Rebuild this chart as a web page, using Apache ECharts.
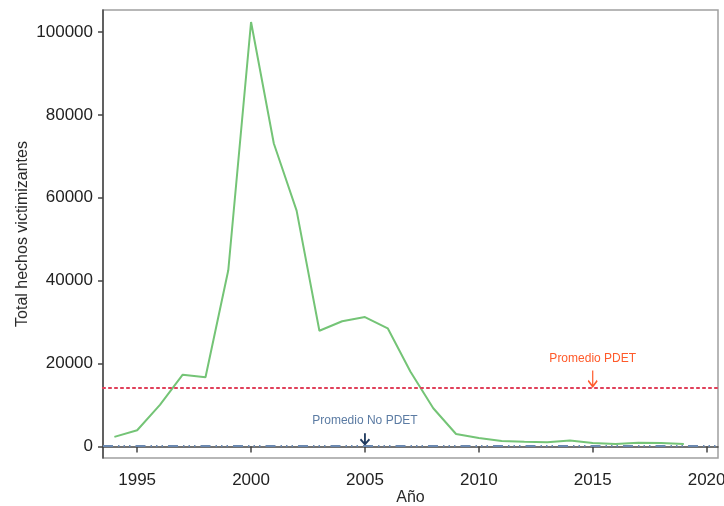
<!DOCTYPE html>
<html>
<head>
<meta charset="utf-8">
<script src="https://cdn.jsdelivr.net/npm/echarts@6/dist/echarts.min.js"></script>
<style>html,body{margin:0;padding:0;background:#fff}#c{width:724px;height:506px}</style>
</head>
<body>
<div id="c"></div>
<script>
var years = [1994,1995,1996,1997,1998,1999,2000,2001,2002,2003,2004,2005,2006,2007,2008,2009,2010,2011,2012,2013,2014,2015,2016,2017,2018,2019];
var totals = [2300,3900,10000,17300,16700,42500,102400,73100,56900,27900,30200,31200,28500,18000,9200,3000,2000,1300,1100,1000,1400,800,600,900,800,600];
var pdetMean = 14200;
var noPdetMean = 150;
var xTicks = [1995,2000,2005,2010,2015,2020];
var yTicks = [0,20000,40000,60000,80000,100000];

var chart = echarts.init(document.getElementById('c'));
var font = 'Liberation Sans, Arial, sans-serif';
var plain = function (v) { return String(v); };
chart.setOption({
  animation: false,
  grid: {left: 103, right: 6, top: 10, bottom: 48, show: true, borderColor: '#a0a0a0', borderWidth: 1.5,
         containLabel: false, outerBoundsMode: 'none'},
  xAxis: {
    type: 'value', min: 1993.5, max: 2020.5,
    name: 'Año', nameLocation: 'middle', nameGap: 32, nameMoveOverlap: false,
    nameTextStyle: {fontFamily: font, fontSize: 16, color: '#2a2a2a'},
    axisLine: {show: true, lineStyle: {color: '#444', width: 1.5}},
    axisTick: {show: true, length: 6, lineStyle: {color: '#444', width: 1.5}, customValues: xTicks},
    axisLabel: {fontFamily: font, fontSize: 17, color: '#222', margin: 14, formatter: plain, customValues: xTicks},
    splitLine: {show: false}
  },
  yAxis: {
    type: 'value', min: -2800, max: 105300,
    name: 'Total hechos victimizantes', nameLocation: 'middle', nameGap: 72, nameRotate: 90, nameMoveOverlap: false,
    nameTextStyle: {fontFamily: font, fontSize: 16, color: '#2a2a2a'},
    axisLine: {show: true, lineStyle: {color: '#444', width: 1.5}},
    axisTick: {show: true, length: 5, lineStyle: {color: '#444', width: 1.5}, customValues: yTicks},
    axisLabel: {fontFamily: font, fontSize: 17, color: '#222', margin: 10, formatter: plain, customValues: yTicks},
    splitLine: {show: false}
  },
  series: [
    {
      type: 'line', data: years.map(function (y, i) { return [y, totals[i]]; }),
      symbol: 'none', lineStyle: {color: '#74c476', width: 2}, z: 3,
      markLine: {
        silent: true, symbol: 'none', label: {show: false},
        data: [
          {yAxis: pdetMean, lineStyle: {color: '#e0405a', width: 2.2, type: [2, 4], cap: 'round'}},
          {yAxis: noPdetMean, lineStyle: {color: '#6a88b0', width: 2.2, type: [10, 5, 1.5, 4, 1.5, 4, 1.5, 5]}}
        ]
      }
    },
    {
      type: 'scatter', silent: true, z: 4,
      data: [[2015, pdetMean]],
      symbol: 'path://M5,0 L5,16 M0,10 L5,16 L10,10',
      symbolSize: [9, 16], symbolOffset: [0, -9], symbolKeepAspect: false,
      itemStyle: {color: 'none', borderColor: '#ff5a2a', borderWidth: 1.6, opacity: 1},
      label: {
        show: true, position: 'top', distance: 3,
        formatter: 'Promedio PDET',
        fontFamily: font, fontSize: 12, color: '#ff5a2a'
      }
    },
    {
      type: 'scatter', silent: true, z: 4,
      data: [[2005, noPdetMean]],
      symbol: 'path://M5,0 L5,11 M0,6 L5,11 L10,6',
      symbolSize: [9, 11], symbolOffset: [0, -7], symbolKeepAspect: false,
      itemStyle: {color: 'none', borderColor: '#1f3a5f', borderWidth: 2, opacity: 1},
      label: {
        show: true, position: 'top', distance: 4,
        formatter: 'Promedio No PDET',
        fontFamily: font, fontSize: 12, color: '#5b7ba3'
      }
    }
  ]
});
</script>
</body>
</html>
